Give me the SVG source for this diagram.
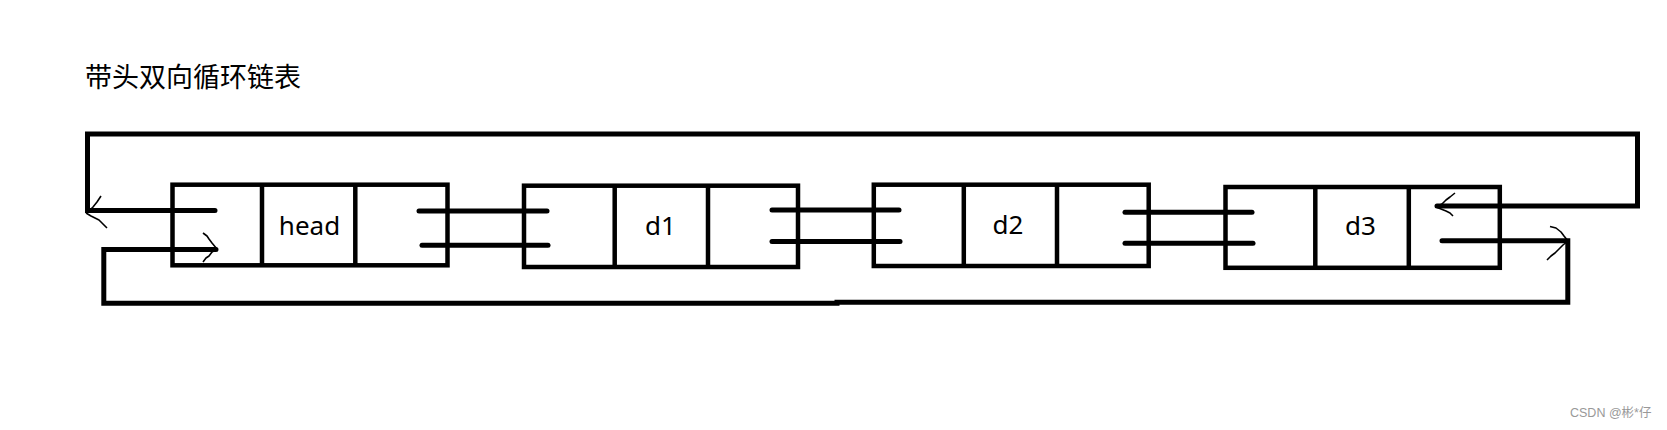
<svg xmlns="http://www.w3.org/2000/svg" width="1667" height="430" viewBox="0 0 1667 430">
<style>
.box{fill:none;stroke:#000;stroke-width:4.5}
.div{stroke:#000;stroke-width:4.5}
.lnk{stroke:#000;stroke-width:5;stroke-linecap:round;fill:none}
.loop{stroke:#000;stroke-width:5;fill:none;stroke-linejoin:miter}
.ah{stroke:#000;stroke-width:1.6;fill:none;stroke-linejoin:round}
.lbl{font-family:"Noto Sans","Liberation Sans",sans-serif;font-size:26px;fill:#000;text-anchor:middle}
.title{font-family:"Noto Sans","Noto Sans CJK SC",sans-serif;font-size:27px;fill:#000}
.wm{font-family:"Liberation Sans","Noto Sans CJK SC",sans-serif;font-size:12.5px;fill:#999}
</style>
<rect width="1667" height="430" fill="#fff"/>
<text class="title" x="85" y="87">带头双向循环链表</text>
<g id="connectors">
<path class="loop" d="M1437,206 H1637.5 V134 H87.5 V210.5 H215" stroke-linecap="round"/>
<path class="loop" d="M216,249.5 H103.8 V303.3 H837 V302.3 H1567.8 V240.7 H1442" stroke-linecap="round"/>
<line class="lnk" x1="419" y1="211" x2="547" y2="211"/>
<line class="lnk" x1="422" y1="245.3" x2="548" y2="245.3"/>
<line class="lnk" x1="772" y1="210" x2="899" y2="210"/>
<line class="lnk" x1="772" y1="241.5" x2="900" y2="241.5"/>
<line class="lnk" x1="1125" y1="212.3" x2="1252" y2="212.3"/>
<line class="lnk" x1="1125" y1="243.3" x2="1253" y2="243.3"/>
<path class="ah" d="M101,196 L97,202 L93,207 L88,212 M86,213 L91,216 L95,218 L99,220 L102,223 L107,228"/>
<path class="ah" d="M203,233 L207,236 L209,239 L212,243 L217,249 L212,252 L209,256 L206,258 L203,262"/>
<path class="ah" d="M1455,193 L1450,197 L1446,200 L1442,204 L1436,207 L1441,209 L1446,211 L1450,213 L1453,216"/>
<path class="ah" d="M1550,226.5 L1556,228 L1561,232 L1564,236 L1568,241 L1563,245 L1559,249 L1555,253 L1551,256 L1547,260"/>
</g>
<g id="node-head">
<rect class="box" x="172.5" y="184.7" width="275" height="80.6"/>
<line class="div" x1="262" y1="184.7" x2="262" y2="265.3"/>
<line class="div" x1="355.3" y1="184.7" x2="355.3" y2="265.3"/>
<text class="lbl" x="309.5" y="234.5">head</text>
</g>
<g id="node-d1">
<rect class="box" x="524" y="185.7" width="274" height="81.3"/>
<line class="div" x1="614.7" y1="185.7" x2="614.7" y2="267"/>
<line class="div" x1="708" y1="185.7" x2="708" y2="267"/>
<text class="lbl" x="660.5" y="234.5">d1</text>
</g>
<g id="node-d2">
<rect class="box" x="873.8" y="184.7" width="274.9" height="81.3"/>
<line class="div" x1="963.8" y1="184.7" x2="963.8" y2="266"/>
<line class="div" x1="1057" y1="184.7" x2="1057" y2="266"/>
<text class="lbl" x="1008" y="234">d2</text>
</g>
<g id="node-d3">
<rect class="box" x="1225.5" y="187" width="274.3" height="80.8"/>
<line class="div" x1="1315.3" y1="187" x2="1315.3" y2="267.8"/>
<line class="div" x1="1408.8" y1="187" x2="1408.8" y2="267.8"/>
<text class="lbl" x="1360.5" y="235">d3</text>
</g>
<text class="wm" x="1570" y="417">CSDN @彬*仔</text>
</svg>
